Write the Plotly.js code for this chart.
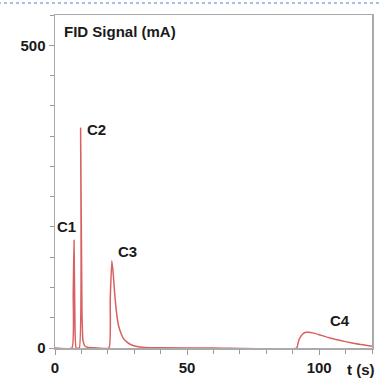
<!DOCTYPE html>
<html>
<head>
<meta charset="utf-8">
<script src="https://cdn.plot.ly/plotly-3.0.1.min.js"></script>
<style>html,body{margin:0;padding:0;background:#fff;}#chart{width:379px;height:381px;}</style>
</head>
<body>
<div id="chart"></div>
<script>
// Time (s) and FID signal (mA)
const timeS = [0, 6.4, 6.9, 7.2, 7.5, 8.0, 9.2, 9.7, 10.2, 10.6, 11.2, 12, 14, 20.4, 20.9, 21.5, 22.0, 22.6, 23.2, 24.0, 25.0, 26.0, 27.5, 29, 31, 34, 40, 60, 91.5, 92.0, 92.5, 93.2, 94.0, 95.0, 96.0, 97.5, 100, 103, 106, 110, 114, 117, 120];
const fidSignal = [0, 0, 90, 178, 60, 0, 0, 363, 60, 12, 4, 1.5, 0.5, 0, 80, 144, 125, 90, 62, 38, 24, 15, 9, 5, 2.5, 1, 0.3, 0, 0, 8, 15, 20, 24, 26, 26, 25, 22, 18, 14.5, 10.5, 7, 5, 3];
const peakLabels = ["C1", "C2", "C3", "C4"];
const peakLabelT = [4.5, 15.8, 27.5, 108];
const peakLabelY = [201, 361, 160, 46];
const xTickVals = [0, 50, 100];
const yTickVals = [0, 500];

const font = {family: "Liberation Sans, Arial, sans-serif", size: 15, color: "#1a1a1a"};
const annotations = peakLabels.map((t, i) => ({
  x: peakLabelT[i], y: peakLabelY[i], xref: "x", yref: "y",
  text: "<b>" + t + "</b>", showarrow: false, font: font
}));
annotations.push({x: 0.022, y: 0.95, xref: "paper", yref: "paper", xanchor: "left", yanchor: "middle",
  text: "<b>FID Signal (mA)</b>", showarrow: false, font: font});
annotations.push({x: 1.016, y: -0.066, xref: "paper", yref: "paper", xanchor: "right", yanchor: "middle",
  text: "<b>t (s)</b>", showarrow: false, font: font});

Plotly.newPlot("chart", [{
  x: timeS, y: fidSignal, type: "scatter", mode: "lines",
  line: {color: "#d96060", width: 1.5, shape: "spline", smoothing: 0.4},
  hoverinfo: "skip"
}], {
  width: 379, height: 381,
  margin: {l: 55, r: 7, t: 15, b: 33},
  paper_bgcolor: "#fff", plot_bgcolor: "#fff",
  showlegend: false,
  font: font,
  xaxis: {
    range: [0, 120], tickvals: xTickVals, ticktext: xTickVals.map(v => "<b>" + v + "</b>"),
    ticks: "outside", ticklen: 5, tickcolor: "#999", showgrid: false, zeroline: false,
    showline: true, linecolor: "#aaa", linewidth: 1.5, mirror: true,
    minor: {dtick: 10, tick0: 0, ticks: "outside", ticklen: 4, tickcolor: "#999", showgrid: false},
    tickfont: font
  },
  yaxis: {
    range: [0, 550], tickvals: yTickVals, ticktext: yTickVals.map(v => "<b>" + v + "</b>"),
    ticks: "outside", ticklen: 5, tickcolor: "#999", showgrid: false, zeroline: false,
    showline: true, linecolor: "#aaa", linewidth: 1.5, mirror: true,
    minor: {dtick: 50, tick0: 0, ticks: "outside", ticklen: 4, tickcolor: "#999", showgrid: false},
    tickfont: font
  },
  annotations: annotations,
  shapes: [{type: "line", xref: "paper", yref: "paper", x0: -0.18, x1: 1.03, y0: 1.036, y1: 1.036,
    line: {color: "#5577cc", width: 1, dash: "dot"}}]
}, {displayModeBar: false, staticPlot: true});
</script>
</body>
</html>
